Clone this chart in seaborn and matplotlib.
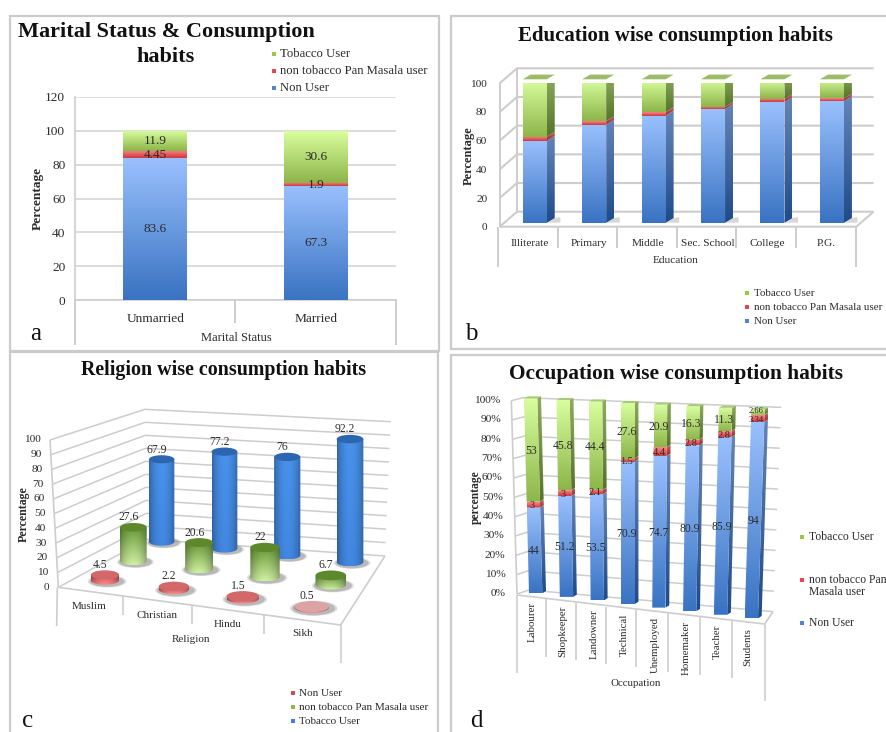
import itertools

import matplotlib
matplotlib.use("Agg")
import matplotlib.pyplot as plt
from matplotlib.colors import to_rgb
from matplotlib.patches import Ellipse, Polygon, Rectangle
from matplotlib.transforms import Affine2D
import numpy as np
import seaborn as sns

# ---- survey percentages -------------------------------------------------
SERIES_STACKED = ["Tobacco User", "non tobacco Pan Masala user", "Non User"]
SERIES_RELIGION = ["Non User", "non tobacco Pan Masala user", "Tobacco User"]

marital = ["Unmarried", "Married"]
marital_non = [83.6, 67.3]
marital_pan = [4.45, 1.9]
marital_tob = [11.9, 30.6]

education = ["Illiterate", "Primary", "Middle", "Sec. School", "College", "P.G."]
education_non = [57.2, 68.4, 74.7, 79.3, 84.2, 84.9]
education_pan = [2.8, 2.5, 2.5, 1.6, 2.1, 1.8]
education_tob = [40.0, 29.1, 22.8, 19.1, 13.7, 13.3]

religion = ["Muslim", "Christian", "Hindu", "Sikh"]
religion_red = [4.5, 2.2, 1.5, 0.5]
religion_green = [27.6, 20.6, 22, 6.7]
religion_blue = [67.9, 77.2, 76, 92.2]

occupation = ["Labourer", "Shopkeeper", "Landowner", "Technical",
              "Unemployed", "Homemaker", "Teacher", "Students"]
occupation_non = [44, 51.2, 53.5, 70.9, 74.7, 80.9, 85.9, 94]
occupation_pan = [3, 3, 2.1, 1.5, 4.4, 2.8, 2.8, 3.34]
occupation_tob = [53, 45.8, 44.4, 27.6, 20.9, 16.3, 11.3, 2.66]

# ---- styling ------------------------------------------------------------
sns.set_theme(style="white")
plt.rcParams["font.family"] = ["Liberation Serif", "DejaVu Serif"]

INK = "#2b2b2b"
RULE = "#cdcdcd"
FRAME = "#cbcbcb"
TEXT_Z = 2000
FRONT = {"blue": ("#3973c2", "#99c0fd"), "red": ("#cb383c", "#ff8585"), "green": ("#8db54a", "#d9fe9e")}
SIDE = {"blue": ("#1f4b88", "#6484b6"), "red": ("#8e2b2b", "#c96262"), "green": ("#55742a", "#8dac5e")}
KEY = {"blue": "#4f86d0", "red": "#e5474d", "green": "#9acb3c"}

W, H = 886, 732
fig = plt.figure(figsize=(W / 100, H / 100), dpi=100, facecolor="white")

# Full-figure sheet measured in pixels, y running downward.
page = fig.add_axes([0, 0, 1, 1], zorder=0)
page.set_xlim(0, W)
page.set_ylim(H, 0)
page.autoscale(False)
page.axis("off")
order = itertools.count(2)


def px_axes(left, top, right, bottom):
    ax = fig.add_axes([left / W, 1 - bottom / H, (right - left) / W, (bottom - top) / H], zorder=1)
    ax.patch.set_alpha(0)
    return ax


def ramp(low, high, n=64):
    return np.linspace(to_rgb(low), to_rgb(high), n)[:, None, :]


def paint(ax, verts, pixels, transform=None, z=3):
    """Fill a polygon with an image stretched over its bounding box."""
    transform = transform or ax.transData
    verts = np.asarray(verts, float)
    x0, x1 = verts[:, 0].min(), verts[:, 0].max()
    y0, y1 = verts[:, 1].min(), verts[:, 1].max()
    if ax is page:
        y0, y1 = y1, y0
    im = ax.imshow(pixels, extent=(x0, x1, y0, y1), origin="lower", aspect="auto",
                   interpolation="bilinear", zorder=z, transform=transform)
    im.set_clip_path(Polygon(verts, closed=True, transform=transform))
    return im


def grey_line(ax, xs, ys, lw=1.4, color=RULE, z=1):
    ax.plot(xs, ys, color=color, lw=lw, clip_on=False, zorder=z, solid_capstyle="butt")


def legend_block(marker_x, text_x, rows, size):
    for y, colour, label in rows:
        if colour:
            page.scatter([marker_x], [y], marker="s", s=size * 1.0, color=colour, linewidths=0, zorder=TEXT_Z)
        page.text(text_x, y, label, fontsize=size, color=INK, va="center", ha="left", zorder=TEXT_Z)


def stacked(ax, cats, layers, width, shift=(0, 0), depth=None, labels=False, fs=9.5):
    """Seaborn stacked bars with graded faces; depth adds an oblique side and top."""
    base = np.zeros(len(cats))
    offset = Affine2D().translate(*shift) + ax.transData
    for values, hue in layers:
        values = np.asarray(values, float)
        n = len(ax.patches)
        sns.barplot(x=cats, y=values, bottom=base, width=width, color=FRONT[hue][0], saturation=1,
                    errorbar=None, order=cats, ax=ax, zorder=4)
        ax.autoscale(False)
        for bar, val, low in zip(ax.patches[n:], values, base):
            bar.set_transform(offset)
            bar.set_linewidth(0)
            x0, x1 = bar.get_x(), bar.get_x() + bar.get_width()
            y0, y1 = low, low + val
            paint(ax, [(x0, y0), (x1, y0), (x1, y1), (x0, y1)], ramp(*FRONT[hue]), offset, z=5)
            if depth:
                dx, dy = depth
                side = [(x1, y0), (x1 + dx, y0 + dy), (x1 + dx, y1 + dy), (x1, y1)]
                paint(ax, side, ramp(*SIDE[hue]), offset, z=4)
            if labels:
                ax.text((x0 + x1) / 2, (y0 + y1) / 2, f"{val:g}", ha="center", va="center",
                        fontsize=fs, color=INK, zorder=8)
        base = base + values
    if depth:
        dx, dy = depth
        for bar, top in zip(ax.patches, base):
            x0 = bar.get_x()
            x1 = x0 + bar.get_width()
            ax.add_patch(Polygon([(x0, top), (x1, top), (x1 + dx, top + dy), (x0 + dx, top + dy)],
                                 facecolor="#9cbc69", edgecolor="none", transform=offset, zorder=5,
                                 clip_on=False))
            ax.add_patch(Polygon([(x0, 0), (x1, 0), (x1 + 1.7 * dx, 0), (x1 + 1.7 * dx, 1.2 * dy), (x1 + dx, dy)],
                                 facecolor="#a8a8a8", edgecolor="none", alpha=0.45, transform=offset, zorder=3,
                                 clip_on=False))


# ---- frames and panel letters -------------------------------------------
for x0, y0, x1, y1 in [(10, 16, 439, 351), (451, 16, 900, 349), (10, 352, 438, 745), (451, 355, 900, 745)]:
    page.add_patch(Rectangle((x0, y0), x1 - x0, y1 - y0, facecolor="white", edgecolor=FRAME, lw=1.6, zorder=1))
for letter, x, y in [("a", 36, 340), ("b", 471, 340), ("c", 28, 727), ("d", 476, 727)]:
    page.text(x, y, letter, fontsize=18, color="#111111", ha="center", va="baseline", zorder=TEXT_Z)

# ---- a: marital status --------------------------------------------------
ax_a = px_axes(75, 96.7, 396, 300.3)
ax_a.set_xlim(-0.5, 1.5)
ax_a.set_ylim(0, 120)
stacked(ax_a, marital, [(marital_non, "blue"), (marital_pan, "red"), (marital_tob, "green")], 0.4, labels=True)
ax_a.set_xlim(-0.5, 1.5)
ax_a.set_ylim(0, 120)
ax_a.set_yticks(range(0, 121, 20))
ax_a.grid(axis="y", color="#dcdcdc", lw=1.4, zorder=0)
ax_a.set_axisbelow(True)
ax_a.tick_params(axis="both", length=0, labelsize=9.6, labelcolor=INK, pad=7)
ax_a.tick_params(axis="x", pad=9)
for name, spine in ax_a.spines.items():
    spine.set_visible(name in ("left", "bottom"))
    spine.set_color(RULE)
    spine.set_linewidth(1.2)
ax_a.set_xlabel("Marital Status", fontsize=9, color=INK)
ax_a.xaxis.set_label_coords(236, 332, transform=page.transData)
ax_a.set_ylabel("Percentage", fontsize=9.6, color=INK, fontweight="bold")
ax_a.yaxis.set_label_coords(44, 198, transform=page.transData)
grey_line(page, [75, 75], [300, 345])
grey_line(page, [235.5, 235.5], [300, 323])
grey_line(page, [396, 396], [300, 345])
page.text(166, 32, "Marital Status & Consumption", fontsize=16, fontweight="bold", color="#111111",
          ha="center", va="center", zorder=TEXT_Z)
page.text(166, 57, "habits", fontsize=16, fontweight="bold", color="#111111",
          ha="center", va="center", zorder=TEXT_Z)
legend_block(274, 280, [(54, KEY["green"], SERIES_STACKED[0]), (71, KEY["red"], SERIES_STACKED[1]),
                        (88, KEY["blue"], SERIES_STACKED[2])], 9.1)

# ---- b: education, oblique bars -----------------------------------------
ax_b = px_axes(499.7, 83.3, 856.3, 226.7)
B_PER_X = (856.3 - 499.7) / 6
B_PER_Y = (226.7 - 83.3) / 100
ax_b.set_xlim(-0.5, 5.5)
ax_b.set_ylim(0, 100)
stacked(ax_b, education, [(education_non, "blue"), (education_pan, "red"), (education_tob, "green")], 0.405,
        shift=(5.3 / B_PER_X, 4 / B_PER_Y), depth=(8 / B_PER_X, 4.7 / B_PER_Y))
ax_b.set_xlim(-0.5, 5.5)
ax_b.set_ylim(0, 100)
ax_b.set_yticks(range(0, 101, 20))
ax_b.tick_params(axis="both", length=0, labelsize=8.2, labelcolor=INK)
ax_b.tick_params(axis="x", pad=9)
ax_b.tick_params(axis="y", pad=9)
for spine in ax_b.spines.values():
    spine.set_visible(False)
wall_x, wall_y = 17.3 / B_PER_X, 15 / B_PER_Y
for level in range(0, 101, 20):
    grey_line(ax_b, [-0.5, -0.5 + wall_x, 5.5 + wall_x], [level, level + wall_y, level + wall_y], lw=1.5)
grey_line(ax_b, [-0.5, -0.5], [0, 100])
grey_line(ax_b, [-0.5 + wall_x] * 2, [wall_y, 100 + wall_y])
grey_line(ax_b, [-0.5, 5.5, 5.5 + wall_x], [0, 0, wall_y], lw=1.5)
for cut in range(7):
    drop = 40 if cut in (0, 6) else 21
    grey_line(page, [443 + 55 + cut * 59.6] * 2, [226.7, 226.7 + drop])
ax_b.set_xlabel("Education", fontsize=8.2, color=INK)
ax_b.xaxis.set_label_coords(676, 256, transform=page.transData)
ax_b.set_ylabel("Percentage", fontsize=9, color=INK, fontweight="bold", zorder=9)
ax_b.yaxis.set_label_coords(475, 155.5, transform=page.transData)
page.text(675.5, 36, "Education wise consumption habits", fontsize=15, fontweight="bold", color="#111111",
          ha="center", va="center", zorder=TEXT_Z)
legend_block(747, 754, [(293, KEY["green"], SERIES_STACKED[0]), (307, KEY["red"], SERIES_STACKED[1]),
                        (321, KEY["blue"], SERIES_STACKED[2])], 7.9)


# ---- c: religion, perspective cylinders ---------------------------------
def c_xy(x, y):
    return x / 3, 350 + y / 3


def c_grid(u, v):
    """Floor position and scales for category u and series row v."""
    a, b = u / 3, v / 2
    def mix(p00, p30, p02, p32):
        return (1 - a) * (1 - b) * p00 + a * (1 - b) * p30 + (1 - a) * b * p02 + a * b * p32
    x = mix(315, 935, 485, 1050)
    y = mix(691, 772, 575, 636)
    scale = mix(3.7, 4.3, 3.64, 4.0) / 3
    radius = mix(42, 52, 38, 40) / 3
    cx, cy = c_xy(x, y)
    return cx, cy, scale, radius


for level in range(0, 101, 10):
    back_left = c_xy(435 + (100 - level) * 0.05, 178 + (100 - level) * 3.9)
    front = c_xy(150 + (100 - level) * 0.25, 712 - 4.42 * level)
    back_right = c_xy(1172 - (100 - level) * 0.17, 215 + (100 - level) * 4.03)
    grey_line(page, [front[0], back_left[0], back_right[0]], [front[1], back_left[1], back_right[1]], lw=1.1)
    page.text(front[0] - 9, front[1], str(level), fontsize=8.2, color=INK, ha="right", va="center", zorder=TEXT_Z)
for p, q in [((175, 712), (1022, 825)), ((1022, 825), (1155, 618)), ((175, 712), (150, 270)),
             ((172, 712), (170, 828)), ((1022, 825), (1022, 938)), ((370, 738), (370, 795)),
             ((575, 765), (575, 822)), ((792, 795), (792, 852))]:
    a0, a1 = c_xy(*p), c_xy(*q)
    grey_line(page, [a0[0], a1[0]], [a0[1], a1[1]], lw=1.2)

BODY = {"blue": ("#3d7dd0", "#4387da"), "green": ("#c2de98", "#5f8d33"), "red": ("#ea8080", "#c24c4c")}
TOP = {"blue": "#2d66b0", "green": "#5d882c", "red": "#d2686a"}


def cylinder(u, v, value, hue):
    cx, cy, scale, r = c_grid(u, v)
    ry = 0.32 * r
    h = value * scale
    z = next(order)
    for grow, alpha in [(1.38, 0.25), (1.25, 0.45)]:
        page.add_patch(Ellipse((cx + 2, cy + 1), 2 * r * grow, 2 * ry * grow, facecolor="#8a8a8a", edgecolor="none",
                               alpha=alpha, zorder=z))
    t = np.linspace(0, np.pi, 40)
    outline = np.r_[np.c_[cx + r * np.cos(t), cy + ry * np.sin(t)], [[cx - r, cy - h], [cx + r, cy - h]]]
    vertical = ramp(*BODY[hue])
    across = 0.74 + 0.34 * np.sin(np.linspace(0, np.pi, 48)) ** 0.7
    shade = np.clip(vertical * across[None, :, None], 0, 1)
    paint(page, outline, shade, z=next(order))
    cap = TOP[hue] if value >= 1 else "#dba3a3"
    page.add_patch(Ellipse((cx, cy - h), 2 * r, 2 * ry, facecolor=cap, edgecolor="none", zorder=next(order)))
    page.text(cx - 5, cy - h - ry - 5.5, f"{value:g}", fontsize=8.4, color=INK, ha="center", va="center", zorder=TEXT_Z)


for v, (values, hue) in reversed(list(enumerate([(religion_red, "red"), (religion_green, "green"),
                                                 (religion_blue, "blue")]))):
    for u, value in enumerate(values):
        cylinder(u, v, value, hue)

for name, (x, y) in zip(religion, [(268, 770), (470, 797), (682, 823), (908, 850)]):
    tx, ty = c_xy(x, y)
    page.text(tx, ty, name, fontsize=8, color=INK, ha="center", va="center", zorder=TEXT_Z)
page.text(*c_xy(573, 870), "Religion", fontsize=8, color=INK, ha="center", va="center", zorder=TEXT_Z)
page.text(*c_xy(72, 492), "Percentage", fontsize=8.6, color=INK, fontweight="bold", rotation=90,
          ha="center", va="center", zorder=TEXT_Z)
page.text(224, 370, "Religion wise consumption habits", fontsize=14.4, fontweight="bold", color="#111111",
          ha="center", va="center", zorder=TEXT_Z)
legend_block(293, 299, [(693, "#d04a4e", SERIES_RELIGION[0]), (707, "#8fb84a", SERIES_RELIGION[1]),
                        (721, "#3f80d8", SERIES_RELIGION[2])], 8)


# ---- d: occupation, 100% bars in perspective ----------------------------
def d_xy(x, y):
    return 443 + x / 3, 350 + y / 3


def d_point(u, share):
    """Front-left corner of bar u at a height given as a 0-100 share."""
    f = u / 7
    x_low, x_high = 258 + 647 * f, 243 + 682 * f
    y_low, y_high = 730 + 75 * f, 145 + 33 * f
    s = share / 100
    return x_low + (x_high - x_low) * s, y_low + (y_high - y_low) * s


for level in range(0, 101, 10):
    rest = 100 - level
    front = d_xy(205 + rest * 0.17, 152 + rest * 5.8)
    back_left = d_xy(240 + rest * 0.18, 143 + rest * 5.77)
    back_right = d_xy(1015 - rest * 0.25, 172 + rest * 6.13)
    grey_line(page, [front[0], back_left[0], back_right[0]], [front[1], back_left[1], back_right[1]], lw=1.1)
    page.text(front[0] - 11, front[1], f"{level}%", fontsize=8.2, color=INK, ha="right", va="center", zorder=TEXT_Z)
for p, q in [((205, 152), (222, 732)), ((222, 735), (965, 822)), ((965, 822), (990, 785)), ((222, 735), (222, 968)),
             ((965, 822), (965, 1052)), ((310, 748), (310, 920)), ((400, 758), (400, 930)), ((490, 770), (490, 942)),
             ((580, 780), (580, 952)), ((675, 790), (675, 965)), ((770, 800), (770, 975)), ((868, 812), (868, 985))]:
    a0, a1 = d_xy(*p), d_xy(*q)
    grey_line(page, [a0[0], a1[0]], [a0[1], a1[1]], lw=1.2)

BAR_W, SIDE_W = 40, 11
for u, name in enumerate(occupation):
    floor = 0.0
    z_side = next(order)
    z_front = next(order)
    for values, hue in [(occupation_non, "blue"), (occupation_pan, "red"), (occupation_tob, "green")]:
        value = values[u]
        x0, y0 = d_point(u, floor)
        x1, y1 = d_point(u, floor + value)
        front = [d_xy(x0, y0), d_xy(x0 + BAR_W, y0), d_xy(x1 + BAR_W, y1), d_xy(x1, y1)]
        side = [d_xy(x0 + BAR_W, y0), d_xy(x0 + BAR_W + SIDE_W, y0 - 7), d_xy(x1 + BAR_W + SIDE_W, y1 - 6),
                d_xy(x1 + BAR_W, y1)]
        paint(page, side, ramp(*SIDE[hue]), z=z_side)
        paint(page, front, ramp(*FRONT[hue]), z=z_front)
        thin = value < 5
        crowded = thin and occupation_tob[u] < 5
        nudge = (3 if hue == "red" else -6) if crowded else 0
        size = 6.2 if crowded else (7.4 if thin else 8.4)
        tx, ty = d_xy((x0 + x1) / 2 + 16, (y0 + y1) / 2 + 3 + nudge)
        page.text(tx, ty, f"{value:g}", fontsize=size, color=INK, ha="center", va="center", zorder=TEXT_Z)
        floor += value
    x1, y1 = d_point(u, floor)
    page.add_patch(Polygon([d_xy(x1, y1), d_xy(x1 + BAR_W, y1), d_xy(x1 + BAR_W + SIDE_W, y1 - 6),
                            d_xy(x1 + SIDE_W, y1 - 6)], facecolor="#a9c878", edgecolor="none", zorder=z_front))
    lx, ly = d_xy(268 + u * 92.4, 755 + u * 11.5)
    page.text(lx, ly, name, fontsize=7.8, color=INK, rotation=90, ha="center", va="top", zorder=TEXT_Z)

page.text(*d_xy(578, 1000), "Occupation", fontsize=7.8, color=INK, ha="center", va="center", zorder=TEXT_Z)
page.text(*d_xy(98, 443), "percentage", fontsize=8.4, color=INK, fontweight="bold", rotation=90,
          ha="center", va="center", zorder=TEXT_Z)
page.text(676, 374, "Occupation wise consumption habits", fontsize=15.4, fontweight="bold", color="#111111",
          ha="center", va="center", zorder=TEXT_Z)
legend_block(802, 809, [(537, KEY["green"], SERIES_STACKED[0]), (580, KEY["red"], "non tobacco Pan"),
                        (592, None, "Masala user"), (623, KEY["blue"], SERIES_STACKED[2])], 8.4)

fig.savefig("out.png", dpi=100, facecolor="white")
